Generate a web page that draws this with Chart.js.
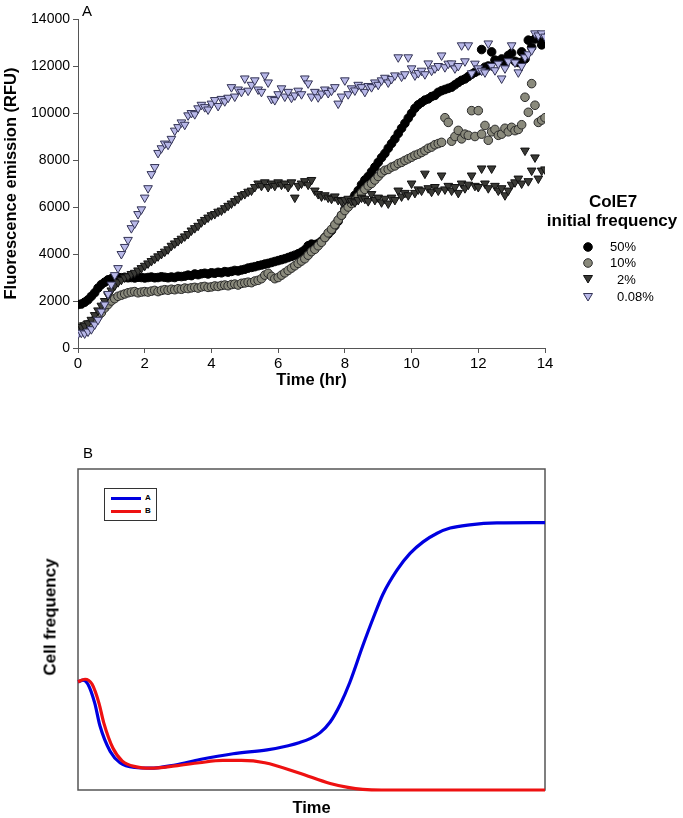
<!DOCTYPE html>
<html>
<head>
<meta charset="utf-8">
<script src="https://cdn.jsdelivr.net/npm/chart.js@4.4.1/dist/chart.umd.min.js"></script>
<style>
  html,body{margin:0;padding:0;background:#fff;}
  body{width:683px;height:818px;position:relative;overflow:hidden;font-family:"Liberation Sans",Arial,sans-serif;color:#000;}
  canvas{position:absolute;left:0;}
  #cA{top:0;}
  #cB{top:400px;}
  .t{position:absolute;white-space:nowrap;line-height:1;}
  .b{font-weight:bold;}
  .mk{position:absolute;width:12px;height:12px;}
</style>
</head>
<body>
<canvas id="cA" width="683" height="400"></canvas>
<canvas id="cB" width="683" height="418"></canvas>

<div class="t" style="left:82px;top:3px;font-size:15px;">A</div>
<div class="t" style="left:83px;top:445px;font-size:15px;">B</div>

<!-- Panel A legend -->
<div class="t b" style="left:613px;top:193px;font-size:17px;transform:translateX(-50%);">ColE7</div>
<div class="t b" style="left:612px;top:212px;font-size:17px;transform:translateX(-50%);">initial frequency</div>
<svg class="mk" style="left:582px;top:241px;" viewBox="0 0 12 12"><circle cx="6" cy="6" r="4.3" fill="#000" stroke="#000" stroke-width="1"/></svg>
<svg class="mk" style="left:582px;top:257px;" viewBox="0 0 12 12"><circle cx="6" cy="6" r="4.3" fill="#8a8a7c" stroke="#2a2a2a" stroke-width="1"/></svg>
<svg class="mk" style="left:582px;top:273px;" viewBox="0 0 12 12"><polygon points="1.5,2.5 10.5,2.5 6,10" fill="#3a3a36" stroke="#111" stroke-width="1"/></svg>
<svg class="mk" style="left:582px;top:291px;" viewBox="0 0 12 12"><polygon points="1.5,2.5 10.5,2.5 6,10" fill="#b8b8e8" stroke="#333355" stroke-width="1"/></svg>
<div class="t" style="left:610px;top:240px;font-size:13px;">50%</div>
<div class="t" style="left:610px;top:256px;font-size:13px;">10%</div>
<div class="t" style="left:617px;top:273px;font-size:13px;">2%</div>
<div class="t" style="left:617px;top:290px;font-size:13px;">0.08%</div>

<!-- Panel B legend -->
<div style="position:absolute;left:104px;top:488px;width:51px;height:31px;border:1px solid #333;background:#fff;"></div>
<div style="position:absolute;left:111px;top:497px;width:30px;height:3px;background:#0000e0;"></div>
<div style="position:absolute;left:111px;top:510px;width:30px;height:3px;background:#ee1111;"></div>
<div class="t b" style="left:145px;top:494px;font-size:8px;">A</div>
<div class="t b" style="left:145px;top:507px;font-size:8px;">B</div>

<div class="t b" style="left:50px;top:617px;font-size:17px;transform:translate(-50%,-50%) rotate(-90deg);">Cell frequency</div>

<script>
// ---------- Panel A data (time in hr, fluorescence in RFU) ----------
const times = [
  0,0.1,0.2,0.3,0.4,0.5,0.6,0.7,0.8,0.9,1,
  1.1,1.2,1.3,1.4,1.5,1.6,1.7,1.8,1.9,2,
  2.1,2.2,2.3,2.4,2.5,2.6,2.7,2.8,2.9,3,
  3.1,3.2,3.3,3.4,3.5,3.6,3.7,3.8,3.9,4,
  4.1,4.2,4.3,4.4,4.5,4.6,4.7,4.8,4.9,5,
  5.1,5.2,5.3,5.4,5.5,5.6,5.7,5.8,5.9,6,
  6.1,6.2,6.3,6.4,6.5,6.6,6.7,6.8,6.9,7,
  7.1,7.2,7.3,7.4,7.5,7.6,7.7,7.8,7.9,8,
  8.1,8.2,8.3,8.4,8.5,8.6,8.7,8.8,8.9,9,
  9.1,9.2,9.3,9.4,9.5,9.6,9.7,9.8,9.9,10,
  10.1,10.2,10.3,10.4,10.5,10.6,10.7,10.8,10.9,11,
  11.1,11.2,11.3,11.4,11.5,11.6,11.7,11.8,11.9,12,
  12.1,12.2,12.3,12.4,12.5,12.6,12.7,12.8,12.9,13,
  13.1,13.2,13.3,13.4,13.5,13.6,13.7,13.8,13.9,14
];

const freq50 = [
  1850,1870,1950,2050,2200,2350,2550,2700,2800,2900,2950,
  2980,3000,2990,3010,2990,3000,2980,3010,3000,2980,
  3000,3020,2990,3000,3030,3010,2990,3020,3000,3050,
  3040,3060,3100,3080,3150,3120,3160,3180,3150,3200,
  3180,3220,3200,3250,3230,3260,3300,3280,3320,3350,
  3400,3430,3460,3500,3530,3570,3600,3640,3680,3720,
  3760,3800,3850,3900,3950,4010,4080,4180,4350,4420,
  4400,4450,4550,4700,4850,5000,5200,5400,5650,5900,
  6100,6300,6500,6700,6950,7150,7300,7500,7700,7900,
  8100,8280,8500,8700,8900,9130,9350,9560,9780,9990,
  10200,10350,10450,10550,10600,10700,10750,10880,10950,11000,
  11050,11100,11200,11300,11390,11450,11550,11650,11730,11800,
  12700,11950,12000,12600,12250,12200,12300,12100,12450,12550,
  12200,12150,12600,12300,13100,12800,13150,13200,12900,13050
];

const freq10 = [
  880,900,950,1000,1080,1200,1350,1500,1700,1850,2000,
  2100,2200,2250,2300,2350,2380,2400,2350,2380,2400,
  2380,2420,2450,2400,2450,2480,2460,2500,2480,2520,
  2500,2550,2530,2560,2580,2550,2600,2620,2580,2600,
  2640,2620,2660,2680,2650,2700,2720,2680,2750,2770,
  2800,2780,2850,2880,2950,3100,3180,3050,2950,3000,
  3100,3200,3300,3400,3500,3600,3700,3800,3950,4100,
  4200,4350,4500,4700,4900,5050,5250,5450,5650,5850,
  6000,6150,6280,6450,6600,6750,6900,7000,7150,7300,
  7450,7560,7600,7700,7750,7850,7900,7980,8050,8120,
  8200,8250,8320,8400,8500,8550,8650,8700,8750,9800,
  9600,8800,9000,9260,8900,9100,9050,10100,9000,10100,
  9100,9470,8840,9200,9300,9050,9100,9350,9200,9390,
  9250,9300,9500,10670,10030,11250,10330,9600,9700,9800
];

const freq2 = [
  850,900,950,1050,1200,1400,1600,1800,2000,2250,2450,
  2650,2800,2900,3000,3050,3150,3200,3300,3400,3500,
  3600,3700,3800,3900,4000,4100,4200,4350,4450,4550,
  4650,4750,4850,5000,5100,5200,5350,5450,5550,5650,
  5700,5800,5850,5950,6050,6150,6250,6350,6500,6550,
  6650,6700,6850,7000,6900,7050,6850,7000,6900,7050,
  6950,7000,6850,7050,6400,6900,7000,7100,6950,7150,
  6700,6550,6450,6500,6400,6350,6450,6300,6250,6300,
  6350,6250,6200,6300,6400,6350,6250,6550,6300,6400,
  6200,6350,6150,6400,6300,6700,6450,6600,6500,7000,
  6600,6750,6700,7420,6800,6650,6850,6700,7340,6750,
  6900,6700,6850,6600,7000,6800,6950,7340,6900,6850,
  7640,7000,6800,7640,6900,6700,6800,6500,6700,6950,
  7050,7210,7000,8400,7100,7550,8110,7210,7550,7600
];

const freq008 = [
  600,650,620,700,800,1000,1200,1550,1850,2300,2700,
  3100,3400,4000,4300,4600,5100,5300,5700,5900,6400,
  6800,7400,7700,8300,8500,8700,8650,8900,9250,9400,
  9600,9500,9900,10000,9950,10200,10350,10250,10150,10400,
  10550,10300,10600,10500,10650,11100,10700,11000,10900,11470,
  10950,11200,11390,11000,10900,11600,11300,10600,10550,10800,
  11050,10700,10900,10650,10750,10950,10800,11470,11260,10700,
  10900,10670,10830,11000,10850,10950,11100,10400,10700,11390,
  10800,11050,10960,11200,11100,10900,11150,11100,11300,11200,
  11390,11500,11300,11450,11600,12370,11550,11650,12370,11900,
  11600,11700,11800,11650,12110,11800,11900,12000,12450,11950,
  12100,12110,11900,12000,12880,12200,12880,11690,12100,11900,
  11800,11730,12960,12000,11820,12100,11470,11900,12200,12880,
  12150,11730,12000,12370,12500,12670,13390,13300,13390,13250
];

const seriesLabels = ['50%','10%','2%','0.08%'];
const xTicksA = [0,2,4,6,8,10,12,14];
const yTicksA = [0,2000,4000,6000,8000,10000,12000,14000];

// ---------- Panel B data (model, arbitrary units) ----------
const modelTime = [0,1.1,2.1,3.6,4.7,6.9,9,12.2,15.4,20.8,26.1,33.2,40.5,45,47.5,49.7,51.8,54,56.1,58.2,61,63.2,65.3,68.3,71.1,73.9,76.9,79.7,83.9,89.7,100];
const cellA = [0.337,0.342,0.33,0.27,0.2,0.12,0.085,0.07,0.068,0.078,0.095,0.113,0.125,0.138,0.148,0.16,0.178,0.212,0.265,0.335,0.45,0.535,0.61,0.685,0.737,0.773,0.8,0.816,0.826,0.832,0.833];
const modelTimeB = [0,1.5,3,4.5,5.5,7.5,9.5,12.5,15.4,20.8,26,31,35,40,47.5,54,57.8,61,65,80,100];
const cellB = [0.337,0.345,0.33,0.27,0.21,0.13,0.09,0.072,0.068,0.075,0.085,0.092,0.092,0.085,0.052,0.02,0.008,0.002,0,0,0];

const pts = (xs, ys) => xs.map((x, i) => ({x: x, y: ys[i]}));

const FONT = '"Liberation Sans", Arial, sans-serif';
const AX = '#555';

new Chart(document.getElementById('cA'), {
  type: 'scatter',
  data: {
    datasets: [
      {label: seriesLabels[0], data: pts(times, freq50), pointStyle: 'circle', pointRadius: 4.3,
        backgroundColor: '#000', borderColor: '#000', borderWidth: 1, order: 4},
      {label: seriesLabels[1], data: pts(times, freq10), pointStyle: 'circle', pointRadius: 4.3,
        backgroundColor: '#8a8a7c', borderColor: '#2a2a2a', borderWidth: 1, order: 3},
      {label: seriesLabels[2], data: pts(times, freq2), pointStyle: 'triangle', rotation: 180, pointRadius: 5,
        backgroundColor: '#3a3a36', borderColor: '#111', borderWidth: 1, order: 2},
      {label: seriesLabels[3], data: pts(times, freq008), pointStyle: 'triangle', rotation: 180, pointRadius: 5,
        backgroundColor: '#b8b8e8', borderColor: '#333355', borderWidth: 1, order: 1}
    ]
  },
  options: {
    responsive: false, animation: false, devicePixelRatio: 1,
    layout: {padding: {left: 0, right: 138, top: 19, bottom: 10}},
    plugins: {legend: {display: false}, tooltip: {enabled: false}},
    scales: {
      x: {
        type: 'linear', min: 0, max: 14,
        afterBuildTicks: s => { s.ticks = xTicksA.map(v => ({value: v})); },
        afterFit: s => { s.height = 42; },
        grid: {display: true, drawOnChartArea: false, drawTicks: true, tickLength: 5, color: AX, lineWidth: 1},
        border: {display: true, color: AX, width: 1},
        ticks: {color: '#000', padding: 2, font: {family: FONT, size: 15}},
        title: {display: true, text: 'Time (hr)', color: '#000', padding: {top: 0, bottom: 0},
          font: {family: FONT, size: 16.5, weight: 'bold'}}
      },
      y: {
        type: 'linear', min: 0, max: 14000,
        afterBuildTicks: s => { s.ticks = yTicksA.map(v => ({value: v})); },
        afterFit: s => { s.width = 78; },
        grid: {display: true, drawOnChartArea: false, drawTicks: true, tickLength: 5, color: AX, lineWidth: 1},
        border: {display: true, color: AX, width: 1},
        ticks: {color: '#000', padding: 3, font: {family: FONT, size: 14}, callback: v => String(v)},
        title: {display: true, text: 'Fluorescence emission (RFU)', color: '#000', padding: {top: 2, bottom: 0},
          font: {family: FONT, size: 16.5, weight: 'bold'}}
      }
    }
  }
});

const boxUnder = {
  id: 'boxUnder',
  beforeDatasetsDraw(chart) {
    const {ctx, chartArea: a} = chart;
    ctx.save();
    ctx.strokeStyle = '#555';
    ctx.lineWidth = 1.5;
    ctx.strokeRect(a.left, a.top, a.right - a.left, a.bottom - a.top);
    ctx.restore();
  }
};

new Chart(document.getElementById('cB'), {
  type: 'line',
  data: {
    datasets: [
      {label: 'A', data: pts(modelTime, cellA), borderColor: '#0000e0', borderWidth: 3.2,
        pointRadius: 0, cubicInterpolationMode: 'monotone', fill: false, order: 1, clip: false},
      {label: 'B', data: pts(modelTimeB, cellB), borderColor: '#ee1111', borderWidth: 3.2,
        pointRadius: 0, cubicInterpolationMode: 'monotone', fill: false, order: 0, clip: false}
    ]
  },
  options: {
    responsive: false, animation: false, devicePixelRatio: 1,
    layout: {padding: {left: 0, right: 138, top: 69, bottom: 0}},
    plugins: {legend: {display: false}, tooltip: {enabled: false}},
    scales: {
      x: {
        type: 'linear', min: 0, max: 100,
        afterFit: s => { s.height = 28; },
        grid: {display: false}, border: {display: false},
        ticks: {display: false},
        title: {display: true, text: 'Time', color: '#000', padding: {top: 0, bottom: 0},
          font: {family: FONT, size: 16.5, weight: 'bold'}}
      },
      y: {
        type: 'linear', min: 0, max: 1,
        afterFit: s => { s.width = 78; },
        grid: {display: false}, border: {display: false},
        ticks: {display: false},
        title: {display: false}
      }
    }
  },
  plugins: [boxUnder]
});
</script>
</body>
</html>
